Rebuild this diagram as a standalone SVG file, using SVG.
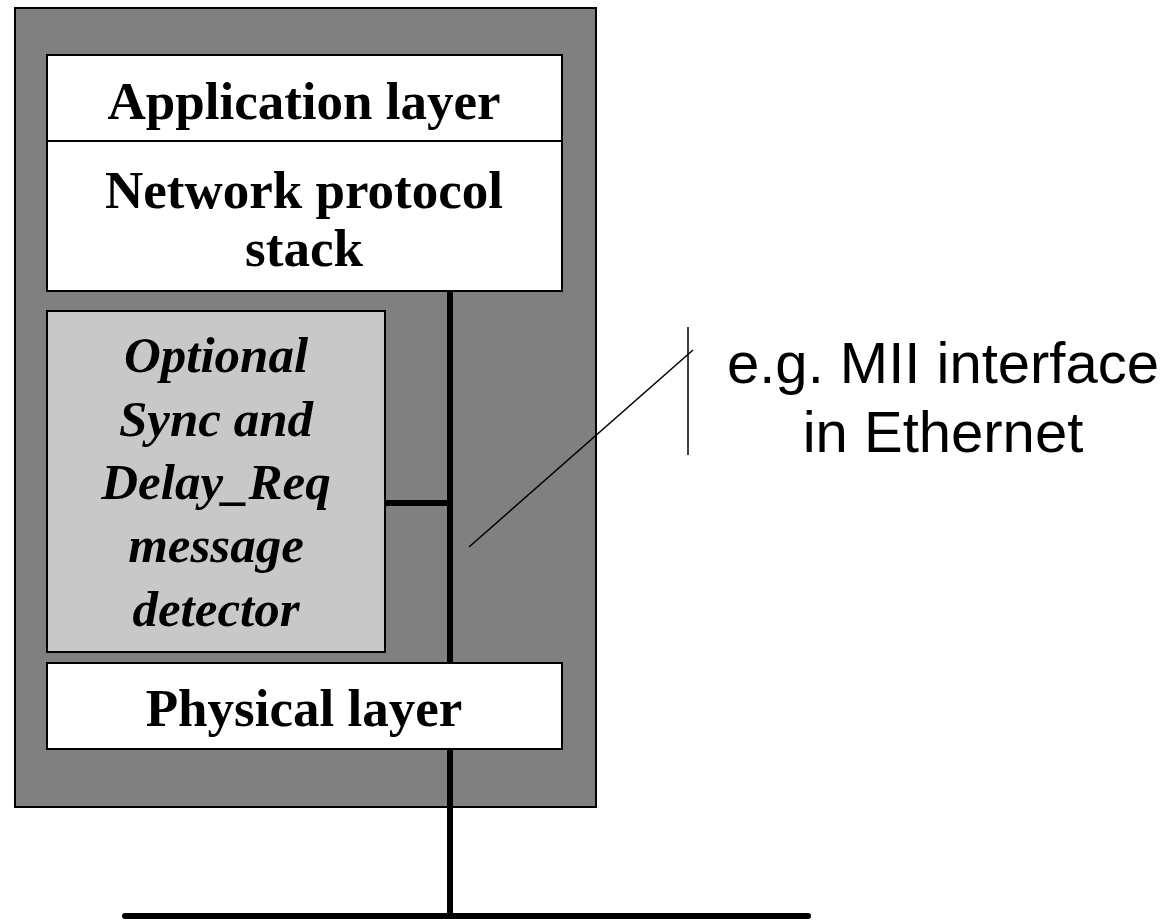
<svg xmlns="http://www.w3.org/2000/svg" width="1172" height="921" viewBox="0 0 1172 921">
  <style>
    .box { stroke: #000; stroke-width: 2; }
    .layer { fill: #fff; }
    .serif { font-family: "Liberation Serif", "Times New Roman", serif; font-weight: bold; font-size: 53px; text-anchor: middle; fill: #000; }
    .ital { font-style: italic; font-size: 51px; }
    .sans { font-family: "Liberation Sans", Arial, sans-serif; font-size: 58px; text-anchor: middle; fill: #000; }
    .bus { stroke: #000; stroke-width: 6; fill: none; }
    .thin { stroke: #000; stroke-width: 1.5; fill: none; }
  </style>

  <!-- node enclosure -->
  <g id="node">
    <rect class="box" x="15" y="8" width="581" height="799" fill="#808080"/>
  </g>

  <!-- connectors: internal interface line, detector tap, network bus, callout -->
  <g id="connectors">
    <line class="bus" x1="450" y1="290" x2="450" y2="915"/>
    <line class="bus" x1="384" y1="503" x2="450" y2="503"/>
    <circle cx="385" cy="503" r="3.5" fill="#000"/>
    <line x1="125" y1="916" x2="808" y2="916" stroke="#000" stroke-width="6" stroke-linecap="round"/>
    <line class="thin" x1="469" y1="547" x2="693" y2="350"/>
    <line class="thin" x1="688" y1="327" x2="688" y2="455"/>
  </g>

  <g id="app-layer">
    <rect class="box layer" x="47" y="55" width="515" height="86"/>
    <text class="serif" x="304" y="119">Application layer</text>
  </g>

  <g id="network-stack">
    <rect class="box layer" x="47" y="141" width="515" height="150"/>
    <text class="serif" x="304" y="208">Network protocol</text>
    <text class="serif" x="304" y="266">stack</text>
  </g>

  <g id="detector">
    <rect class="box" x="47" y="311" width="338" height="341" fill="#c8c8c8"/>
    <text class="serif ital" x="216" y="372">Optional</text>
    <text class="serif ital" x="216" y="436">Sync and</text>
    <text class="serif ital" x="216" y="499">Delay_Req</text>
    <text class="serif ital" x="216" y="562">message</text>
    <text class="serif ital" x="216" y="626">detector</text>
  </g>

  <g id="physical-layer">
    <rect class="box layer" x="47" y="663" width="515" height="86"/>
    <text class="serif" x="304" y="726">Physical layer</text>
  </g>

  <g id="callout-label">
    <text class="sans" x="943" y="383">e.g. MII interface</text>
    <text class="sans" x="943" y="452">in Ethernet</text>
  </g>
</svg>
